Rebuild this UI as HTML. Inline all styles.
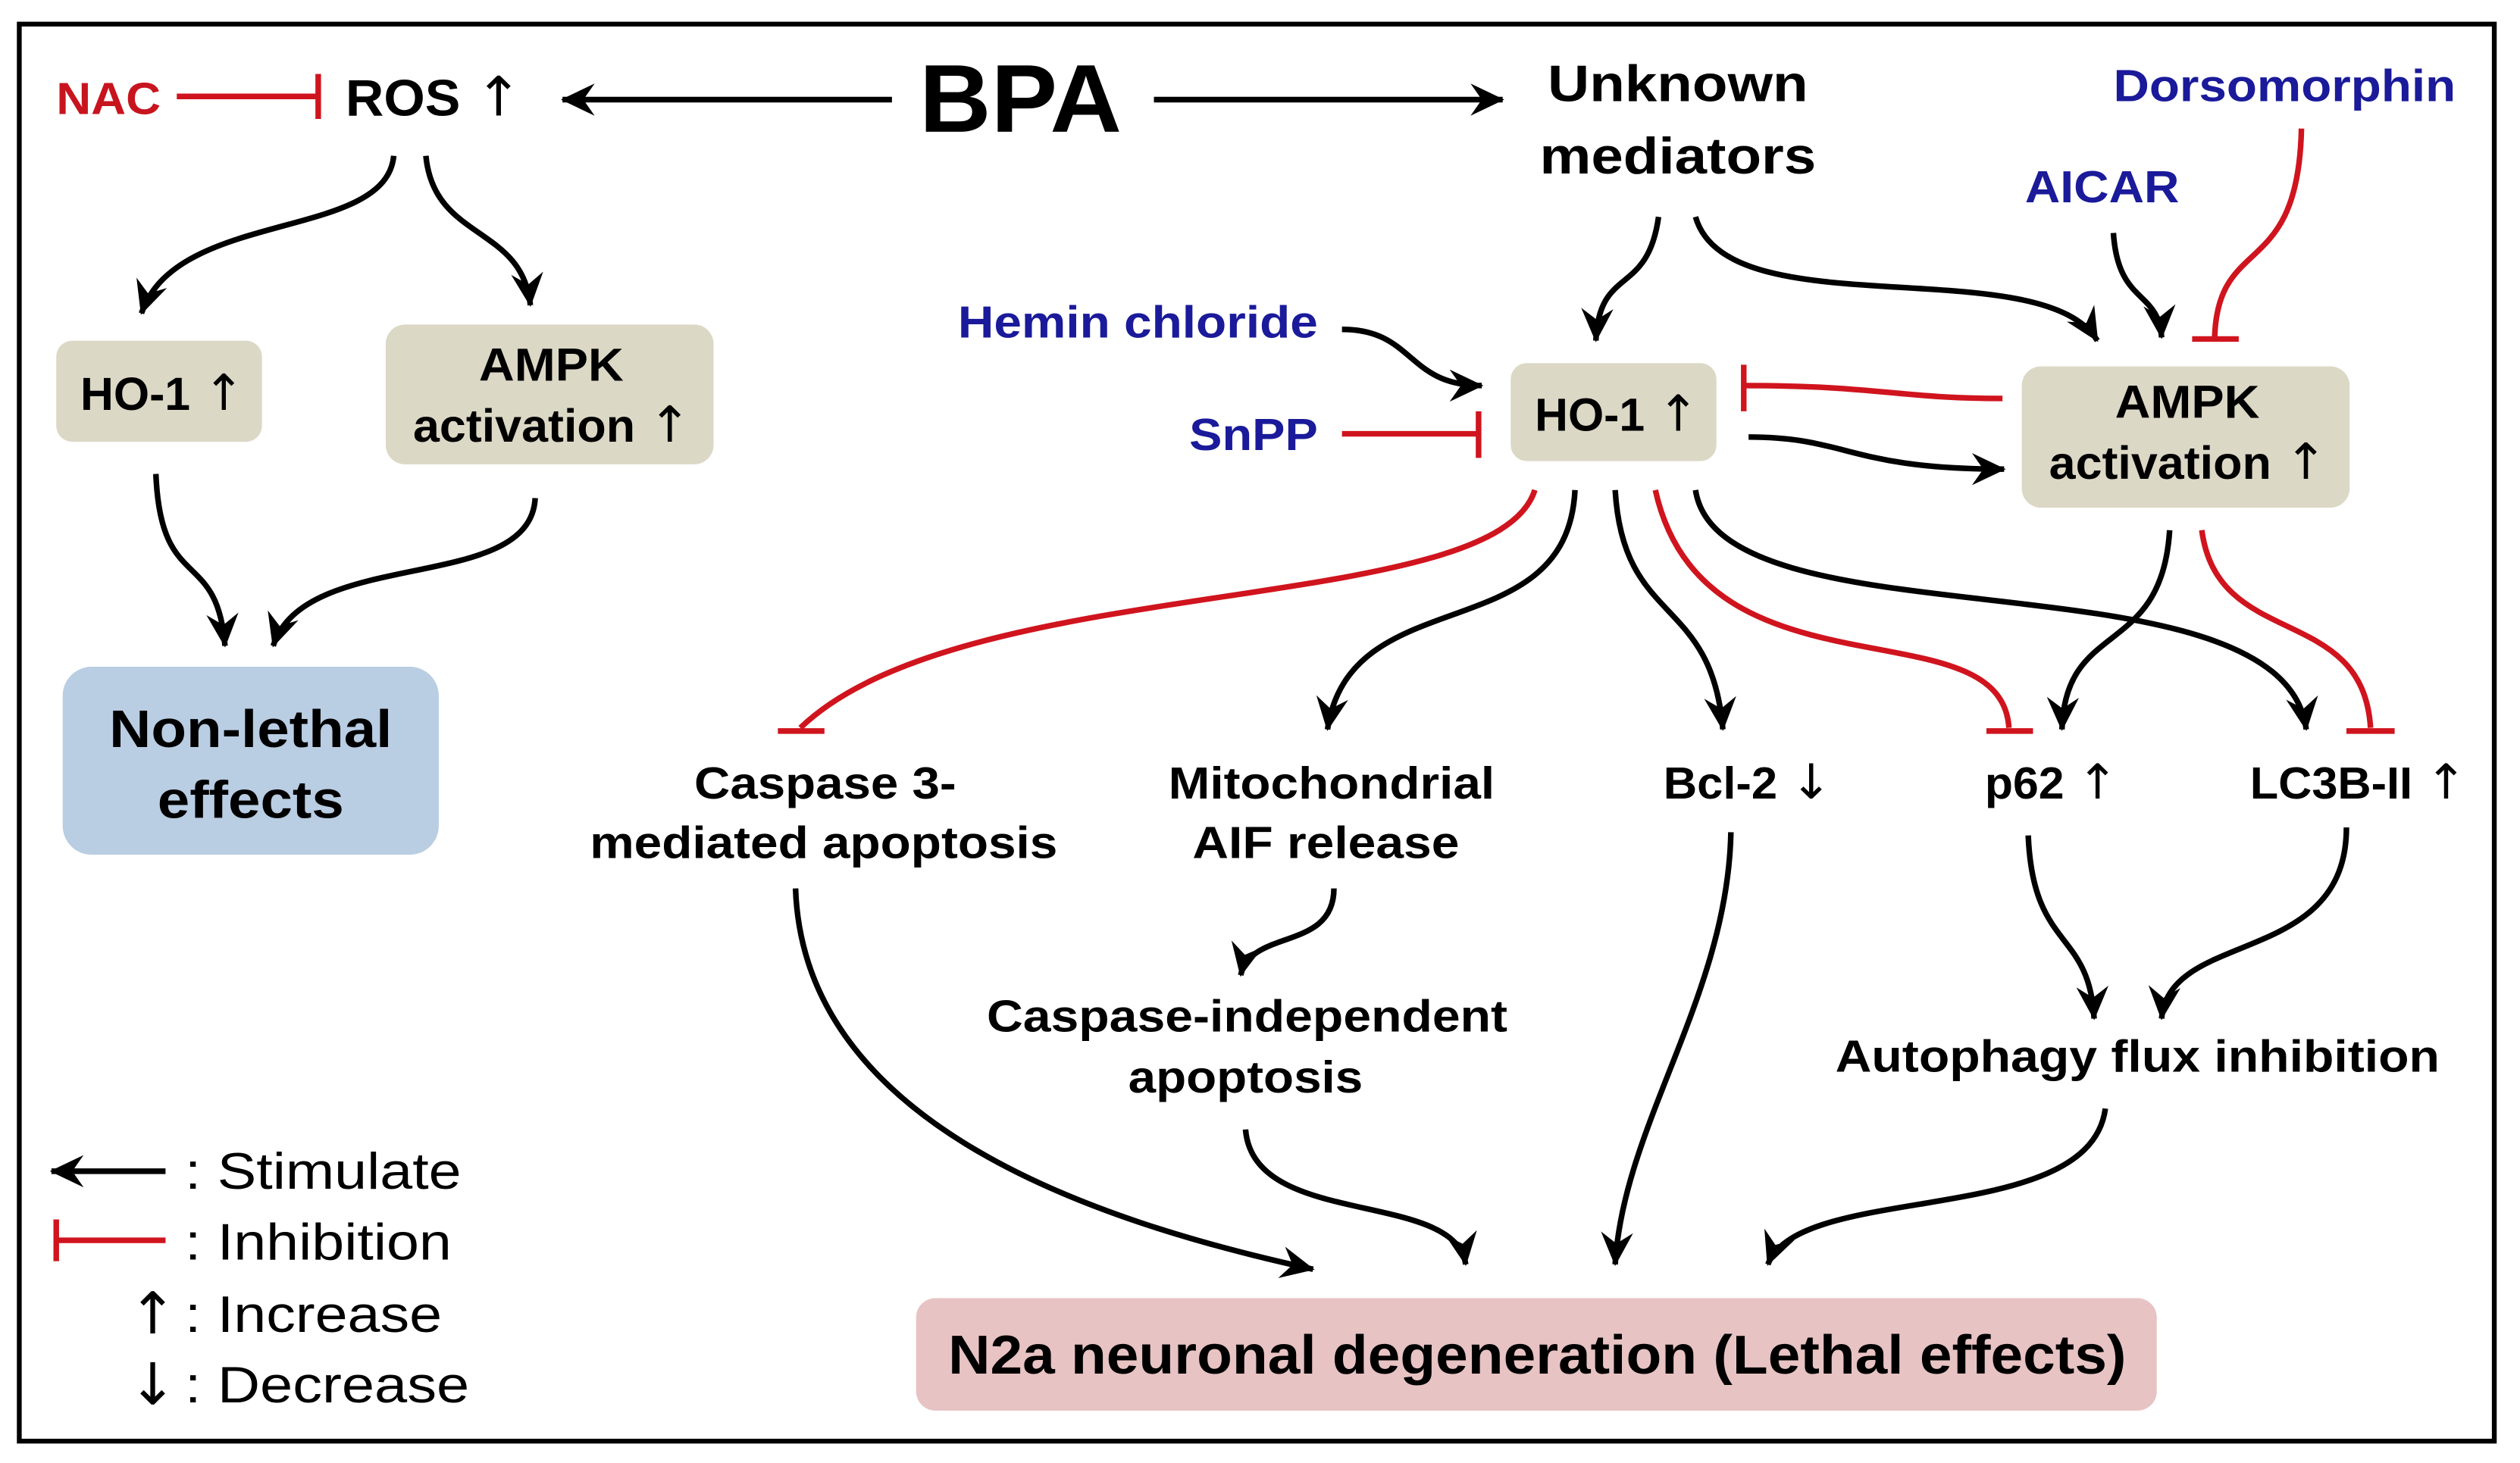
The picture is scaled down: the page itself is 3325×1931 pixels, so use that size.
<!DOCTYPE html>
<html><head><meta charset="utf-8"><style>
html,body{margin:0;padding:0;background:#fff;}
svg{display:block;}
text{font-family:"Liberation Sans",Arial,sans-serif;font-weight:bold;}
.ar{font-family:"DejaVu Sans",sans-serif;font-weight:normal;}
.n{font-weight:normal;}
</style></head><body>
<svg width="3325" height="1931" viewBox="0 0 1568 910.6" xmlns="http://www.w3.org/2000/svg">
<defs>
<marker id="a" viewBox="-22 -13 26 26" refX="0" refY="0" markerWidth="26" markerHeight="26" orient="auto" markerUnits="userSpaceOnUse">
<path d="M-20,-10 L1,0 L-20,10 L-13,0 Z" fill="#000"/>
</marker>
</defs>
<rect x="12" y="15" width="1540" height="882" fill="#fff" stroke="#000" stroke-width="3"/>

<rect x="35" y="212" width="128" height="63" rx="10" fill="#dcd8c6"/>
<rect x="240" y="202" width="204" height="87" rx="12" fill="#dcd8c6"/>
<rect x="39" y="415" width="234" height="117" rx="18" fill="#b9cde3"/>
<rect x="940" y="226" width="128" height="61" rx="10" fill="#dcd8c6"/>
<rect x="1258" y="228" width="204" height="88" rx="12" fill="#dcd8c6"/>
<rect x="570" y="808" width="772" height="70" rx="12" fill="#e8c3c3"/>

<text x="35" y="71" font-size="28" fill="#c8141e" textLength="65" lengthAdjust="spacingAndGlyphs">NAC</text>
<text x="215" y="72" font-size="32" textLength="110" lengthAdjust="spacingAndGlyphs">ROS <tspan class="ar" font-size="34">↑</tspan></text>
<text x="572" y="82" font-size="60" textLength="126" lengthAdjust="spacingAndGlyphs">BPA</text>
<text x="963" y="63" font-size="32" textLength="162" lengthAdjust="spacingAndGlyphs">Unknown</text>
<text x="958" y="108" font-size="32" textLength="172" lengthAdjust="spacingAndGlyphs">mediators</text>
<text x="1315" y="63" font-size="28" fill="#1a1a9a" textLength="213" lengthAdjust="spacingAndGlyphs">Dorsomorphin</text>
<text x="1260" y="126" font-size="28" fill="#1a1a9a" textLength="96" lengthAdjust="spacingAndGlyphs">AICAR</text>
<text x="596" y="210" font-size="28" fill="#1a1a9a" textLength="224" lengthAdjust="spacingAndGlyphs">Hemin chloride</text>
<text x="740" y="280" font-size="28" fill="#1a1a9a" textLength="80" lengthAdjust="spacingAndGlyphs">SnPP</text>

<text x="50" y="255" font-size="29" textLength="102" lengthAdjust="spacingAndGlyphs">HO-1 <tspan class="ar" font-size="31">↑</tspan></text>
<text x="298" y="237" font-size="29" textLength="90" lengthAdjust="spacingAndGlyphs">AMPK</text>
<text x="257" y="275" font-size="29" textLength="173" lengthAdjust="spacingAndGlyphs">activation <tspan class="ar" font-size="31">↑</tspan></text>
<text x="68" y="465" font-size="33" textLength="176" lengthAdjust="spacingAndGlyphs">Non-lethal</text>
<text x="98" y="509" font-size="33" textLength="116" lengthAdjust="spacingAndGlyphs">effects</text>

<text x="955" y="268" font-size="29" textLength="102" lengthAdjust="spacingAndGlyphs">HO-1 <tspan class="ar" font-size="31">↑</tspan></text>
<text x="1316" y="260" font-size="29" textLength="90" lengthAdjust="spacingAndGlyphs">AMPK</text>
<text x="1275" y="298" font-size="29" textLength="173" lengthAdjust="spacingAndGlyphs">activation <tspan class="ar" font-size="31">↑</tspan></text>

<text x="432" y="497" font-size="28" textLength="163" lengthAdjust="spacingAndGlyphs">Caspase 3-</text>
<text x="367" y="534" font-size="28" textLength="291" lengthAdjust="spacingAndGlyphs">mediated apoptosis</text>
<text x="727" y="497" font-size="28" textLength="203" lengthAdjust="spacingAndGlyphs">Mitochondrial</text>
<text x="742" y="534" font-size="28" textLength="166" lengthAdjust="spacingAndGlyphs">AIF release</text>
<text x="1035" y="497" font-size="28" textLength="105" lengthAdjust="spacingAndGlyphs">Bcl-2 <tspan class="ar" font-size="30">↓</tspan></text>
<text x="1235" y="497" font-size="28" textLength="83" lengthAdjust="spacingAndGlyphs">p62 <tspan class="ar" font-size="30">↑</tspan></text>
<text x="1400" y="497" font-size="28" textLength="135" lengthAdjust="spacingAndGlyphs">LC3B-II <tspan class="ar" font-size="30">↑</tspan></text>
<text x="614" y="642" font-size="28" textLength="324" lengthAdjust="spacingAndGlyphs">Caspase-independent</text>
<text x="702" y="680" font-size="28" textLength="146" lengthAdjust="spacingAndGlyphs">apoptosis</text>
<text x="1142" y="667" font-size="28" textLength="376" lengthAdjust="spacingAndGlyphs">Autophagy flux inhibition</text>
<text x="590" y="855" font-size="34" textLength="733" lengthAdjust="spacingAndGlyphs">N2a neuronal degeneration (Lethal effects)</text>

<text class="n" x="115" y="740" font-size="32" textLength="172" lengthAdjust="spacingAndGlyphs">: Stimulate</text>
<text class="n" x="115" y="784" font-size="32" textLength="166" lengthAdjust="spacingAndGlyphs">: Inhibition</text>
<text class="ar" x="80" y="830" font-size="36">↑</text>
<text class="n" x="115" y="829" font-size="32" textLength="160" lengthAdjust="spacingAndGlyphs">: Increase</text>
<text class="ar" x="80" y="874" font-size="36">↓</text>
<text class="n" x="115" y="873" font-size="32" textLength="177" lengthAdjust="spacingAndGlyphs">: Decrease</text>

<g fill="none" stroke="#000" stroke-width="3.5">
<path d="M103,729 L32,729" marker-end="url(#a)"/>
<path d="M555,62 L350,62" marker-end="url(#a)"/>
<path d="M718,62 L935,62" marker-end="url(#a)"/>
<path d="M245,97 C240,150 110,130 88,195" marker-end="url(#a)"/>
<path d="M265,97 C270,150 325,140 330,190" marker-end="url(#a)"/>
<path d="M97,295 C100,370 135,340 140,402" marker-end="url(#a)"/>
<path d="M333,310 C330,370 190,340 170,402" marker-end="url(#a)"/>
<path d="M1032,135 C1025,185 995,165 993,212" marker-end="url(#a)"/>
<path d="M1055,135 C1075,205 1270,155 1305,212" marker-end="url(#a)"/>
<path d="M1315,145 C1318,190 1343,180 1345,210" marker-end="url(#a)"/>
<path d="M835,205 C880,205 875,240 922,240" marker-end="url(#a)"/>
<path d="M1088,272 C1150,272 1150,292 1247,292" marker-end="url(#a)"/>
<path d="M980,305 C975,405 840,360 826,454" marker-end="url(#a)"/>
<path d="M1005,305 C1010,390 1065,370 1072,454" marker-end="url(#a)"/>
<path d="M1055,305 C1070,405 1420,340 1435,454" marker-end="url(#a)"/>
<path d="M1350,330 C1345,410 1285,385 1283,454" marker-end="url(#a)"/>
<path d="M495,553 C500,700 680,760 817,790" marker-end="url(#a)"/>
<path d="M830,553 C830,592 778,578 772,607" marker-end="url(#a)"/>
<path d="M775,703 C780,765 905,740 912,787" marker-end="url(#a)"/>
<path d="M1077,518 C1075,620 1010,700 1005,787" marker-end="url(#a)"/>
<path d="M1310,690 C1300,765 1120,735 1100,787" marker-end="url(#a)"/>
<path d="M1262,520 C1265,592 1300,578 1303,634" marker-end="url(#a)"/>
<path d="M1460,515 C1460,602 1350,578 1345,634" marker-end="url(#a)"/>
</g>

<g fill="none" stroke="#d0141e" stroke-width="3.5">
<path d="M110,60 L198,60"/><path d="M198,46 L198,74"/>
<path d="M35,772 L103,772"/><path d="M35,759 L35,785"/>
<path d="M1432,80 C1430,175 1380,145 1378,210"/><path d="M1364,211 L1393,211"/>
<path d="M835,270 L920,270"/><path d="M920,256 L920,285"/>
<path d="M1246,248 C1180,248 1170,240 1085,240"/><path d="M1085,227 L1085,256"/>
<path d="M955,305 C930,385 600,355 498,453"/><path d="M484,455 L513,455"/>
<path d="M1030,305 C1060,440 1245,375 1250,453"/><path d="M1236,455 L1265,455"/>
<path d="M1370,330 C1380,405 1470,375 1475,453"/><path d="M1460,455 L1490,455"/>
</g>
</svg>
</body></html>
